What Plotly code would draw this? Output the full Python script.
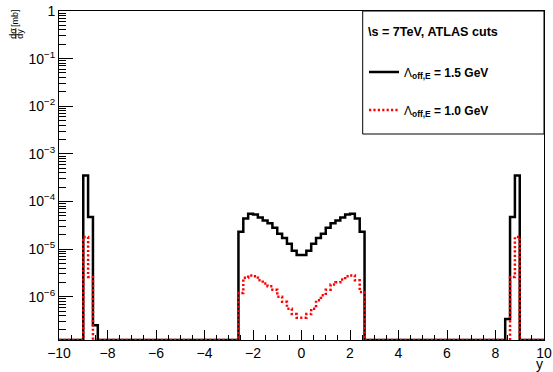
import numpy as np
import plotly.graph_objects as go

# ---------------- data ----------------
x_min, x_max, n_bins = -10.0, 10.0, 100

# Lambda_off,E = 1.5 GeV (black) : non-zero bins, given by low edge of first bin
black_left_start = -9.0
black_left = [3.5e-4, 4.7e-5, 2.5e-7]
black_center_start = -2.6
black_center = [2.3e-5, 4.4e-5, 5.5e-5, 5.3e-5, 4.6e-5, 4.0e-5, 3.5e-5, 2.8e-5,
                2.1e-5, 1.7e-5, 1.3e-5, 9.2e-6, 7.5e-6,
                7.5e-6, 9.2e-6, 1.3e-5, 1.7e-5, 2.1e-5, 2.8e-5, 3.5e-5, 4.0e-5,
                4.6e-5, 5.3e-5, 5.5e-5, 4.4e-5, 2.3e-5]
black_right_start = 8.4
black_right = [3.4e-7, 4.7e-5, 3.5e-4]

# Lambda_off,E = 1.0 GeV (red dotted)
red_left_start = -9.0
red_left = [1.8e-5, 2.6e-6]
red_center_start = -2.6
red_center = [1.2e-6, 2.5e-6, 2.8e-6, 2.7e-6, 2.2e-6, 1.9e-6, 1.66e-6, 1.4e-6,
              1.0e-6, 7.8e-7, 5.6e-7, 4.3e-7, 3.6e-7,
              3.6e-7, 4.3e-7, 5.6e-7, 8.4e-7, 1.07e-6, 1.4e-6, 1.8e-6, 2.0e-6,
              2.3e-6, 2.7e-6, 2.8e-6, 2.2e-6, 1.25e-6]
red_right_start = 8.6
red_right = [2.6e-6, 1.8e-5]

y_log_min, y_log_max = -6.91, 0.0

x_tickvals = list(range(-10, 11, 2))
y_tickvals = [1e-6, 1e-5, 1e-4, 1e-3, 1e-2, 1e-1, 1.0]
y_ticktext = ["10<sup>\u22126</sup>", "10<sup>\u22125</sup>", "10<sup>\u22124</sup>",
              "10<sup>\u22123</sup>", "10<sup>\u22122</sup>", "10<sup>\u22121</sup>", "1"]

legend_title = "\\s = 7TeV, ATLAS cuts"
name_black = "\u039b<sub><b>off,E</b></sub><b> = 1.5 GeV</b>"
name_red = "\u039b<sub><b>off,E</b></sub><b> = 1.0 GeV</b>"

# ---------------- build histograms ----------------
bw = (x_max - x_min) / n_bins
edges = x_min + bw * np.arange(n_bins + 1)


def hist(parts):
    v = np.zeros(n_bins)
    for start, vals in parts:
        i0 = int(round((start - x_min) / bw))
        v[i0:i0 + len(vals)] = vals
    return v


h_black = hist([(black_left_start, black_left), (black_center_start, black_center),
                (black_right_start, black_right)])
h_red = hist([(red_left_start, red_left), (red_center_start, red_center),
              (red_right_start, red_right)])

floor = 10 ** y_log_min


def step_xy(v):
    y = np.where(v > 0, v, floor)
    return edges, np.append(y, y[-1])


fig = go.Figure()
xb, yb = step_xy(h_black)
fig.add_trace(go.Scatter(x=xb, y=yb, mode="lines", line_shape="hv", name=name_black,
                         legendgroup="a", hoverinfo="skip",
                         line=dict(color="black", width=2.5)))
xr, yr = step_xy(h_red)
fig.add_trace(go.Scatter(x=xr, y=yr, mode="lines", line_shape="hv", name=name_red,
                         legendgroup="b", hoverinfo="skip",
                         line=dict(color="#ff0000", width=2.5, dash="2.2px,2.2px")))

W, H = 553, 372
L, R, T, B = 59, 9, 11, 32
pw, ph = W - L - R, H - T - B


def px(x):
    return (x - L) / pw


def py(y):
    return (H - B - y) / ph


font_family = "Liberation Sans, Arial, Helvetica, sans-serif"

minor_y = [k * 10.0 ** e for e in range(-7, 0) for k in range(2, 10)]

fig.update_layout(
    template="none",
    width=W, height=H,
    margin=dict(l=L, r=R, t=T, b=B, pad=0, autoexpand=False),
    paper_bgcolor="white", plot_bgcolor="white",
    font=dict(family=font_family, color="black", size=14),
    xaxis=dict(range=[x_min, x_max], showgrid=False, zeroline=False, automargin=False,
               showline=True, linecolor="black", linewidth=1, mirror=True,
               ticks="inside", ticklen=10, tickwidth=1, tickcolor="black",
               tickmode="array", tickvals=x_tickvals, tickfont=dict(size=14),
               minor=dict(dtick=0.5, ticks="inside", ticklen=5, tickwidth=1,
                          tickcolor="black", showgrid=False)),
    yaxis=dict(type="log", range=[y_log_min, y_log_max], showgrid=False, zeroline=False,
               automargin=False,
               showline=True, linecolor="black", linewidth=1, mirror=True,
               ticks="inside", ticklen=14, tickwidth=1, tickcolor="black",
               tickmode="array", tickvals=y_tickvals, ticktext=y_ticktext,
               tickfont=dict(size=14),
               minor=dict(tickmode="array", tickvals=minor_y, ticks="inside",
                          ticklen=7, tickwidth=1, tickcolor="black", showgrid=False)),
    showlegend=True,
    legend=dict(x=px(364), y=py(57.5), xanchor="left", yanchor="top",
                bgcolor="rgba(0,0,0,0)", borderwidth=0,
                font=dict(size=12, family=font_family, color="black"),
                tracegroupgap=19, itemwidth=30),
)

# legend box
fig.add_shape(type="rect", xref="paper", yref="paper",
              x0=px(362.7), x1=1.0, y0=py(134), y1=1.0,
              line=dict(color="black", width=1), fillcolor="rgba(0,0,0,0)", layer="above")
# legend header
fig.add_annotation(xref="paper", yref="paper", x=px(366), y=py(31.7),
                   text="<b>" + legend_title + "</b>", showarrow=False,
                   xanchor="left", yanchor="middle",
                   font=dict(family=font_family, size=12.6, color="black"))

# y-axis title  d sigma / dy [mb]
ann_font = dict(family=font_family, size=9, color="black")
fig.add_annotation(xref="paper", yref="paper", x=px(12.3), y=py(33.5), text="d\u03c3",
                   textangle=-90, showarrow=False, xanchor="center", yanchor="middle",
                   font=ann_font)
fig.add_annotation(xref="paper", yref="paper", x=px(19.3), y=py(33.5), text="dy",
                   textangle=-90, showarrow=False, xanchor="center", yanchor="middle",
                   font=ann_font)
fig.add_shape(type="line", xref="paper", yref="paper", x0=px(15.8), x1=px(15.8),
              y0=py(28), y1=py(39), line=dict(color="black", width=0.8))
fig.add_annotation(xref="paper", yref="paper", x=px(15.5), y=py(18.5), text="[mb]",
                   textangle=-90, showarrow=False, xanchor="center", yanchor="middle",
                   font=ann_font)
# x-axis title
fig.add_annotation(xref="paper", yref="paper", x=px(539), y=py(363.5), text="y",
                   showarrow=False, xanchor="center", yanchor="middle",
                   font=dict(family=font_family, size=14, color="black"))

fig.write_html("out.html", config={"displayModeBar": False},
               post_script="document.body.style.margin='0';"
                           "document.documentElement.style.overflow='hidden';")
